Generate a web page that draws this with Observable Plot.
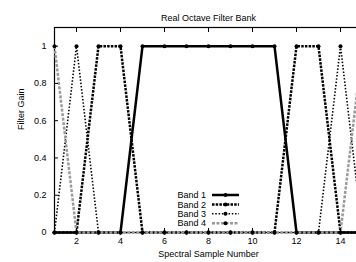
<!DOCTYPE html>
<html><head><meta charset="utf-8">
<script src="https://cdn.jsdelivr.net/npm/d3@7"></script>
<script src="https://cdn.jsdelivr.net/npm/@observablehq/plot@0.6"></script>
<style>
html,body{margin:0;padding:0;overflow:hidden;background:#fff;}
</style></head><body><div id="chart"></div>
<script>
const samples = [1,2,3,4,5,6,7,8,9,10,11,12,13,14,15];
const band1 = [0,0,0,0,1,1,1,1,1,1,1,0,0,0,0];
const band2 = [0,0,1,1,0,0,0,0,0,0,0,1,1,0,0];
const band3 = [0,1,0,0,0,0,0,0,0,0,0,0,0,1,0];
const band4 = [1,0,0,0,0,0,0,0,0,0,0,0,0,0,1];
const bandNames = ["Band 1","Band 2","Band 3","Band 4"];
const xTicks = [2,4,6,8,10,12,14];
const yTicks = [0,0.2,0.4,0.6,0.8,1];
const yTickLabels = ["0","0.2","0.4","0.6","0.8","1"];
const title = "Real Octave Filter Bank";
const xLabel = "Spectral Sample Number";
const yLabel = "Filter Gain";

const series = [band1, band2, band3, band4];
const styles = [
  {stroke:"#000", strokeWidth:2.5, dash:null},
  {stroke:"#000", strokeWidth:2.5, dash:"2.5,1.2"},
  {stroke:"#000", strokeWidth:1.6, dash:"1.5,1.8"},
  {stroke:"#9a9a9a", strokeWidth:2.5, dash:"3,1.5"}
];
const rows = series.flatMap((vals, i) => vals.map((v, j) => ({band: bandNames[i], x: samples[j], y: v})));

const font = "'Liberation Sans', Arial, Helvetica, sans-serif";
const marks = [Plot.frame({stroke:"#000", strokeWidth:1.2})];
bandNames.forEach((name, i) => {
  const data = rows.filter(d => d.band === name);
  const s = styles[i];
  marks.push(Plot.line(data, {x:"x", y:"y", stroke:s.stroke, strokeWidth:s.strokeWidth, strokeDasharray:s.dash, strokeLinecap:"butt", strokeLinejoin:"miter"}));
  marks.push(Plot.dot(data, {x:"x", y:"y", r:2, fill:"#000", stroke:null}));
});
marks.push(
  Plot.axisX({ticks: xTicks, anchor:"bottom", tickSize:-4, fill:"none", stroke:"#000"}),
  Plot.axisX({ticks: xTicks, anchor:"top", tickSize:-4, fill:"none", stroke:"#000"}),
  Plot.axisY({ticks: yTicks, anchor:"left", tickSize:-4, fill:"none", stroke:"#000"}),
  Plot.axisX({ticks: xTicks, anchor:"bottom", tickSize:0, tickPadding:5, label:null, fill:"#000"}),
  Plot.axisY({ticks: yTicks, anchor:"left", tickSize:0, tickPadding:8, label:null, fill:"#000",
    tickFormat: d => yTickLabels[yTicks.indexOf(d)]}),
  Plot.text([title], {text: d => d, frameAnchor:"top", dy:-13, fontSize:9, fill:"#000"}),
  Plot.text([xLabel], {text: d => d, frameAnchor:"bottom", dy:24, fontSize:9, fill:"#000"}),
  Plot.text([yLabel], {text: d => d, frameAnchor:"left", dx:-33, rotate:-90, fontSize:9, fill:"#000"})
);

const chart = Plot.plot({
  width: 356, height: 262,
  marginLeft: 54, marginRight: -6, marginTop: 27, marginBottom: 30,
  x: {domain:[1,15]},
  y: {domain:[0,1.1]},
  style: {fontFamily: font, fontSize: "9px", color:"#000", background:"#fff", overflow:"hidden"},
  marks
});
document.getElementById("chart").append(chart);

// legend
const svg = d3.select(chart);
const lg = svg.append("g").attr("font-family", font).attr("font-size", 9);
bandNames.forEach((name, i) => {
  const yy = 195 + i * 9.4;
  const s = styles[i];
  lg.append("text").attr("x", 206).attr("y", yy).attr("dy", "0.35em").attr("text-anchor", "end").attr("fill", "#000").text(name);
  lg.append("line").attr("x1", 212).attr("x2", 239).attr("y1", yy).attr("y2", yy)
    .attr("stroke", s.stroke).attr("stroke-width", s.strokeWidth).attr("stroke-dasharray", s.dash);
  lg.append("circle").attr("cx", 225.5).attr("cy", yy).attr("r", 2).attr("fill", "#000");
});
</script></body></html>
